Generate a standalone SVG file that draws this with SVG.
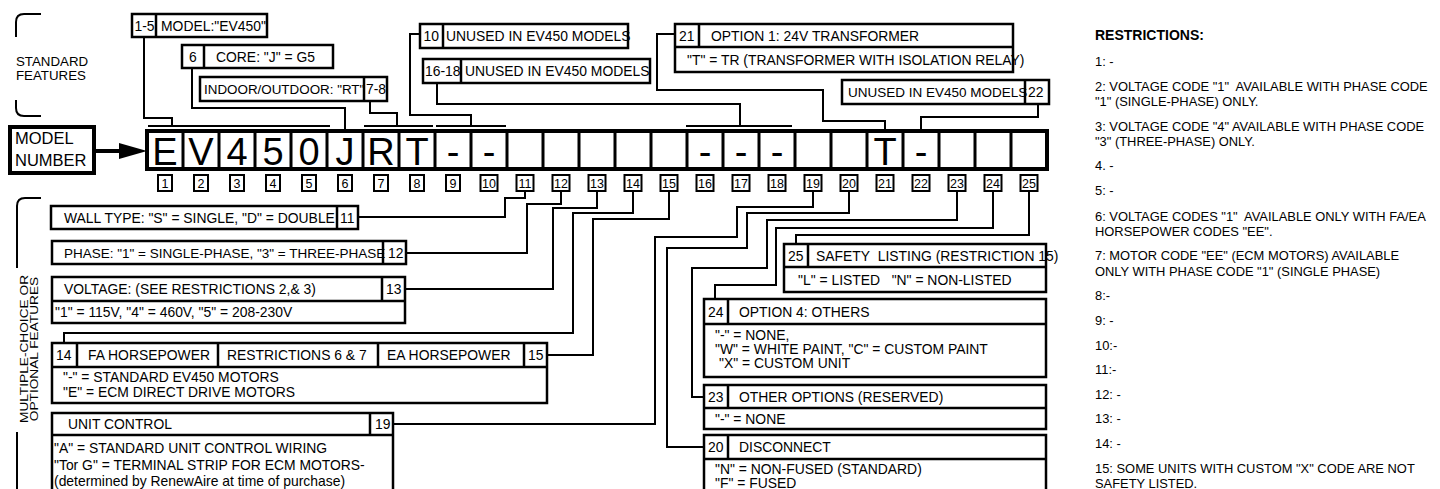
<svg xmlns="http://www.w3.org/2000/svg" width="1440" height="489" viewBox="0 0 1440 489">
<style>
text{font-family:"Liberation Sans",Arial,sans-serif;fill:#000}
.b{font-size:13.9px}
.bl{font-size:13.9px}
.r{font-size:12.9px}
.lbl{font-size:12.5px;text-anchor:middle}
.big{font-size:38px;text-anchor:middle}
.box{fill:#fff;stroke:#000;stroke-width:2.5}
.ln{fill:none;stroke:#000;stroke-width:2.5}
.lb{fill:#fff;stroke:#000;stroke-width:2}
.cn path{fill:none;stroke:#000;stroke-width:2}
.br{fill:none;stroke:#000;stroke-width:2}
</style>
<rect width="1440" height="489" fill="#fff"/>

<!-- side labels -->
<g id="standard-features">
<path class="br" d="M41,14 H24 Q16,14 16,22 V37"/>
<path class="br" d="M16,100 V108 Q16,116 24,116 H41"/>
<text x="16" y="66" style="font-size:13.3px">STANDARD</text>
<text x="16" y="80" style="font-size:13.3px">FEATURES</text>
</g>
<g id="optional-features">
<path class="br" d="M41,198 H25 Q17,198 17,206 V268"/>
<path class="br" d="M17,432 V489"/>
<text transform="translate(27.5,349) rotate(-90) scale(1,0.82)" text-anchor="middle" style="font-size:13.7px">MULTIPLE-CHOICE OR</text>
<text transform="translate(37.5,349) rotate(-90) scale(1,0.82)" text-anchor="middle" style="font-size:13.7px">OPTIONAL FEATURES</text>
</g>

<g id="model-number">
<rect x="10" y="127" width="84" height="46" fill="#fff" stroke="#000" stroke-width="4"/>
<text x="15" y="144" style="font-size:16.5px">MODEL</text>
<text x="15" y="166" style="font-size:16.5px">NUMBER</text>
</g>

<g id="code-row">
<rect x="147" y="131" width="900" height="38" fill="#fff" stroke="#000" stroke-width="4"/>
<path d="M183,131V169M219,131V169M255,131V169M291,131V169M327,131V169M363,131V169M399,131V169M435,131V169M471,131V169M507,131V169M543,131V169M579,131V169M615,131V169M651,131V169M687,131V169M723,131V169M759,131V169M795,131V169M831,131V169M867,131V169M903,131V169M939,131V169M975,131V169M1011,131V169" stroke="#000" stroke-width="3" fill="none"/>
<text class="big" x="165" y="165">E</text>
<text class="big" x="201" y="165">V</text>
<text class="big" x="237" y="165">4</text>
<text class="big" x="273" y="165">5</text>
<text class="big" x="309" y="165">0</text>
<text class="big" x="345" y="165">J</text>
<text class="big" x="381" y="165">R</text>
<text class="big" x="417" y="165">T</text>
<text class="big" x="453" y="165">-</text>
<text class="big" x="489" y="165">-</text>
<text class="big" x="705" y="165">-</text>
<text class="big" x="741" y="165">-</text>
<text class="big" x="777" y="165">-</text>
<text class="big" x="885" y="165">T</text>
<text class="big" x="921" y="165">-</text>
</g>

<g id="position-labels">
<rect class="lb" x="158" y="175" width="14" height="16"/><text class="lbl" x="165" y="188">1</text>
<rect class="lb" x="194" y="175" width="14" height="16"/><text class="lbl" x="201" y="188">2</text>
<rect class="lb" x="230" y="175" width="14" height="16"/><text class="lbl" x="237" y="188">3</text>
<rect class="lb" x="266" y="175" width="14" height="16"/><text class="lbl" x="273" y="188">4</text>
<rect class="lb" x="302" y="175" width="14" height="16"/><text class="lbl" x="309" y="188">5</text>
<rect class="lb" x="338" y="175" width="14" height="16"/><text class="lbl" x="345" y="188">6</text>
<rect class="lb" x="374" y="175" width="14" height="16"/><text class="lbl" x="381" y="188">7</text>
<rect class="lb" x="410" y="175" width="14" height="16"/><text class="lbl" x="417" y="188">8</text>
<rect class="lb" x="446" y="175" width="14" height="16"/><text class="lbl" x="453" y="188">9</text>
<rect class="lb" x="480.5" y="175" width="17" height="16"/><text class="lbl" x="489" y="188">10</text>
<rect class="lb" x="516.5" y="175" width="17" height="16"/><text class="lbl" x="525" y="188">11</text>
<rect class="lb" x="552.5" y="175" width="17" height="16"/><text class="lbl" x="561" y="188">12</text>
<rect class="lb" x="588.5" y="175" width="17" height="16"/><text class="lbl" x="597" y="188">13</text>
<rect class="lb" x="624.5" y="175" width="17" height="16"/><text class="lbl" x="633" y="188">14</text>
<rect class="lb" x="660.5" y="175" width="17" height="16"/><text class="lbl" x="669" y="188">15</text>
<rect class="lb" x="696.5" y="175" width="17" height="16"/><text class="lbl" x="705" y="188">16</text>
<rect class="lb" x="732.5" y="175" width="17" height="16"/><text class="lbl" x="741" y="188">17</text>
<rect class="lb" x="768.5" y="175" width="17" height="16"/><text class="lbl" x="777" y="188">18</text>
<rect class="lb" x="804.5" y="175" width="17" height="16"/><text class="lbl" x="813" y="188">19</text>
<rect class="lb" x="840.5" y="175" width="17" height="16"/><text class="lbl" x="849" y="188">20</text>
<rect class="lb" x="876.5" y="175" width="17" height="16"/><text class="lbl" x="885" y="188">21</text>
<rect class="lb" x="912.5" y="175" width="17" height="16"/><text class="lbl" x="921" y="188">22</text>
<rect class="lb" x="948.5" y="175" width="17" height="16"/><text class="lbl" x="957" y="188">23</text>
<rect class="lb" x="984.5" y="175" width="17" height="16"/><text class="lbl" x="993" y="188">24</text>
<rect class="lb" x="1020.5" y="175" width="17" height="16"/><text class="lbl" x="1029" y="188">25</text>
</g>

<!-- connectors -->
<g id="connectors" class="cn">
<path d="M94,151 H124" style="stroke-width:4"/>
<polygon points="119,143 147,151 119,159" fill="#000" stroke="none"/>
<path d="M144,37 V118 H172 V126"/>
<path d="M148,126 H330"/>
<path d="M192,68 V108 H345 V131"/>
<path d="M370,101 V113 H397 V126"/>
<path d="M364,126 H433"/>
<path d="M420,34 H410 V115 H471 V126"/>
<path d="M436,126 H506"/>
<path d="M437,83 V104 H740 V126"/>
<path d="M686,126 H792"/>
<path d="M675,34 H657 V90 H823 V121 H885 V131"/>
<path d="M1038,104 V117 H921 V131"/>
<path d="M358,217 H505 V198 H525 V191"/>
<path d="M406,253 H527 V204 H561 V191"/>
<path d="M405,289 H553 V208 H597 V191"/>
<path d="M633,191 V213 H573 V333 H64 V343"/>
<path d="M547,355 H593 V219 H669 V191"/>
<path d="M393,424 H655 V237 H737 V207 H813 V191"/>
<path d="M705,447 H667 V248 H747 V213 H849 V191"/>
<path d="M705,397 H692 V268 H767 V220 H957 V191"/>
<path d="M715,299 V285 H776 V228 H993 V191"/>
<path d="M796,244 V235 H1029 V191"/>
</g>

<!-- top boxes -->
<g id="box-1-5">
<rect class="box" x="132" y="14" width="135" height="23"/>
<path class="ln" d="M156,14 V37"/>
<text class="b" x="134.5" y="30.5">1-5</text>
<text class="b" x="161" y="30.5">MODEL:"EV450"</text>
</g>
<g id="box-6">
<rect class="box" x="182" y="45" width="151" height="23"/>
<path class="ln" d="M204,45 V68"/>
<text class="b" x="189" y="61.5">6</text>
<text class="b" x="216" y="61.5">CORE: "J" = G5</text>
</g>
<g id="box-7-8">
<rect class="box" x="200" y="77" width="187" height="24"/>
<text class="b" x="204" y="94" style="font-size:13.4px">INDOOR/OUTDOOR: "RT"</text>
<path class="ln" d="M364,77 V101"/>
<text class="b" x="366" y="94">7-8</text>
</g>
<g id="box-10">
<rect class="box" x="420" y="24" width="208" height="24"/>
<path class="ln" d="M443,24 V48"/>
<text class="b" x="423.5" y="41">10</text>
<text class="b" x="446" y="41">UNUSED IN EV450 MODELS</text>
</g>
<g id="box-16-18">
<rect class="box" x="423" y="59" width="227" height="24"/>
<path class="ln" d="M461,59 V83"/>
<text class="b" x="425" y="76">16-18</text>
<text class="b" x="465" y="76">UNUSED IN EV450 MODELS</text>
</g>
<g id="box-21">
<rect class="box" x="675" y="24" width="338" height="48"/>
<path class="ln" d="M675,47 H1013 M699,24 V47"/>
<text class="b" x="679" y="41">21</text>
<text class="b" x="711" y="41">OPTION 1: 24V TRANSFORMER</text>
<text class="b" x="687" y="65">"T" = TR (TRANSFORMER WITH ISOLATION RELAY)</text>
</g>
<g id="box-22">
<rect class="box" x="842" y="80" width="207" height="24"/>
<text class="b" x="848" y="97" style="font-size:13.5px">UNUSED IN EV450 MODELS</text>
<path class="ln" d="M1025,80 V104"/>
<text class="b" x="1028" y="97">22</text>
</g>

<!-- lower left boxes -->
<g id="box-11">
<rect class="box" x="51" y="206" width="307" height="23"/>
<path class="ln" d="M337,206 V229"/>
<text class="bl" x="64" y="222.5">WALL TYPE: "S" = SINGLE, "D" = DOUBLE</text>
<text class="bl" x="340" y="222.5">11</text>
</g>
<g id="box-12">
<rect class="box" x="52" y="241" width="354" height="23"/>
<text class="bl" x="64" y="258" style="font-size:13.5px">PHASE: "1" = SINGLE-PHASE, "3" = THREE-PHASE</text>
<path class="ln" d="M383,241 V264"/>
<text class="bl" x="388" y="258">12</text>
</g>
<g id="box-13">
<rect class="box" x="52" y="277" width="353" height="46"/>
<path class="ln" d="M52,301 H405 M382,277 V301"/>
<text class="bl" x="64" y="294">VOLTAGE: (SEE RESTRICTIONS 2,&amp; 3)</text>
<text class="bl" x="386" y="294">13</text>
<text class="bl" x="55" y="317">"1" = 115V, "4" = 460V, "5" = 208-230V</text>
</g>
<g id="box-14-15">
<rect class="box" x="52" y="343" width="495" height="60"/>
<path class="ln" d="M52,367 H547 M77,343 V367 M218,343 V367 M378,343 V367 M524,343 V367"/>
<text class="bl" x="56" y="360">14</text>
<text class="bl" x="88" y="360">FA HORSEPOWER</text>
<text class="bl" x="227" y="360">RESTRICTIONS 6 &amp; 7</text>
<text class="bl" x="387" y="360">EA HORSEPOWER</text>
<text class="bl" x="528" y="360">15</text>
<text class="bl" x="63" y="382">"-" = STANDARD EV450 MOTORS</text>
<text class="bl" x="63" y="397">"E" = ECM DIRECT DRIVE MOTORS</text>
</g>
<g id="box-19">
<rect class="box" x="52" y="413" width="341" height="90"/>
<path class="ln" d="M52,435 H393 M370,413 V435"/>
<text class="bl" x="68" y="429">UNIT CONTROL</text>
<text class="bl" x="375" y="429">19</text>
<text class="bl" x="54" y="453">"A" = STANDARD UNIT CONTROL WIRING</text>
<text class="bl" x="54" y="470">"Tor G" = TERMINAL STRIP FOR ECM MOTORS-</text>
<text class="bl" x="54" y="486">(determined by RenewAire at time of purchase)</text>
</g>

<!-- lower right boxes -->
<g id="box-25">
<rect class="box" x="784" y="244" width="262" height="48"/>
<path class="ln" d="M784,267 H1046 M808,244 V267"/>
<text class="b" x="788" y="261">25</text>
<text class="b" x="816" y="261">SAFETY&#160; LISTING (RESTRICTION 15)</text>
<text class="b" x="798" y="285">"L" = LISTED &#160; "N" = NON-LISTED</text>
</g>
<g id="box-24">
<rect class="box" x="704" y="299" width="342" height="78"/>
<path class="ln" d="M704,324 H1046 M728,299 V324"/>
<text class="b" x="708" y="317">24</text>
<text class="b" x="739" y="317">OPTION 4: OTHERS</text>
<text class="b" x="715" y="340">"-" = NONE,</text>
<text class="b" x="715" y="354">"W" = WHITE PAINT, "C" = CUSTOM PAINT</text>
<text class="b" x="719" y="368">"X" = CUSTOM UNIT</text>
</g>
<g id="box-23">
<rect class="box" x="704" y="385" width="342" height="44"/>
<path class="ln" d="M704,408 H1046 M728,385 V408"/>
<text class="b" x="708" y="402">23</text>
<text class="b" x="739" y="402">OTHER OPTIONS (RESERVED)</text>
<text class="b" x="715" y="424">"-" = NONE</text>
</g>
<g id="box-20">
<rect class="box" x="704" y="435" width="342" height="70"/>
<path class="ln" d="M704,459 H1046 M728,435 V459"/>
<text class="b" x="708" y="452">20</text>
<text class="b" x="739" y="452">DISCONNECT</text>
<text class="b" x="715" y="474">"N" = NON-FUSED (STANDARD)</text>
<text class="b" x="715" y="488">"F" = FUSED</text>
</g>

<!-- restrictions -->
<g id="restrictions">
<text x="1095" y="40" style="font-size:14px;font-weight:bold">RESTRICTIONS:</text>
<text class="r" x="1095" y="66">1: -</text>
<text class="r" x="1095" y="91">2: VOLTAGE CODE "1"&#160; AVAILABLE WITH PHASE CODE</text>
<text class="r" x="1095" y="106">"1" (SINGLE-PHASE) ONLY.</text>
<text class="r" x="1095" y="131">3: VOLTAGE CODE "4" AVAILABLE WITH PHASE CODE</text>
<text class="r" x="1095" y="146">"3" (THREE-PHASE) ONLY.</text>
<text class="r" x="1095" y="170">4. -</text>
<text class="r" x="1095" y="195">5: -</text>
<text class="r" x="1095" y="221">6: VOLTAGE CODES "1"&#160; AVAILABLE ONLY WITH FA/EA</text>
<text class="r" x="1095" y="236">HORSEPOWER CODES "EE".</text>
<text class="r" x="1095" y="260">7: MOTOR CODE "EE" (ECM MOTORS) AVAILABLE</text>
<text class="r" x="1095" y="276">ONLY WITH PHASE CODE "1" (SINGLE PHASE)</text>
<text class="r" x="1095" y="300">8:-</text>
<text class="r" x="1095" y="325">9: -</text>
<text class="r" x="1095" y="350">10:-</text>
<text class="r" x="1095" y="374">11:-</text>
<text class="r" x="1095" y="399">12: -</text>
<text class="r" x="1095" y="423">13: -</text>
<text class="r" x="1095" y="448">14: -</text>
<text class="r" x="1095" y="473">15: SOME UNITS WITH CUSTOM "X" CODE ARE NOT</text>
<text class="r" x="1095" y="488">SAFETY LISTED.</text>
</g>
</svg>
